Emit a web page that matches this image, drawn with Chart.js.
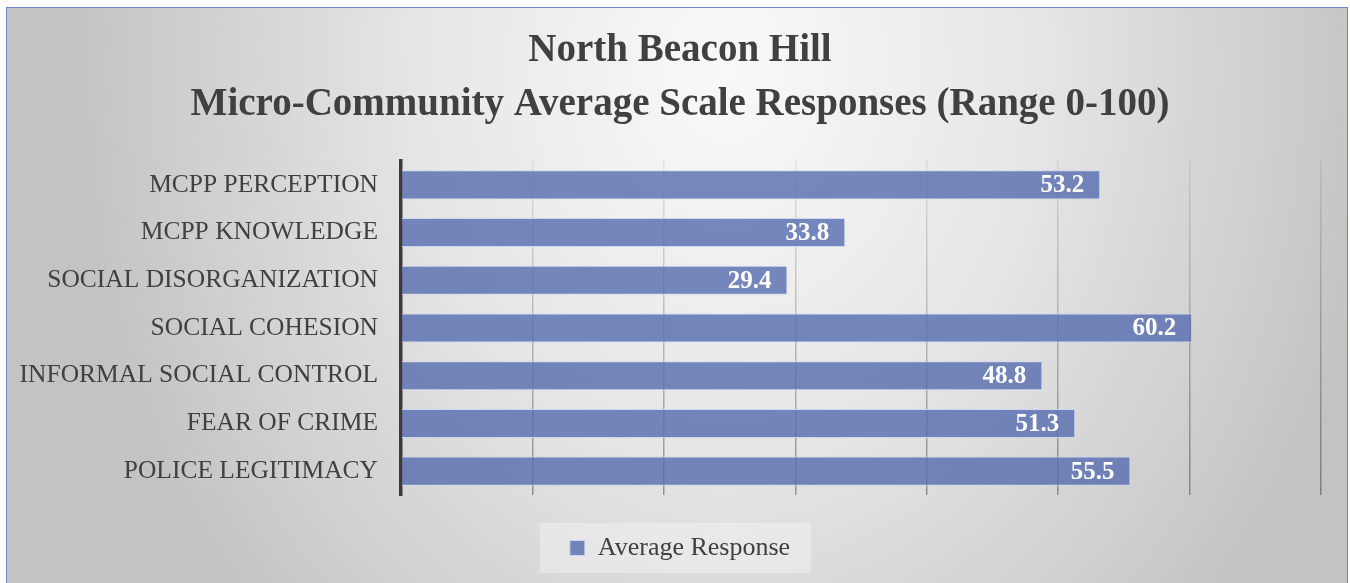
<!DOCTYPE html>
<html>
<head>
<meta charset="utf-8">
<script src="https://cdn.jsdelivr.net/npm/chart.js@4"></script>
<style>
  html, body { margin: 0; padding: 0; background: #ffffff; width: 1350px; height: 583px; overflow: hidden; }
  #box {
    position: absolute; left: 6px; top: 7px; width: 1340px; height: 600px;
    border: 1.5px solid #6f84c6;
    background: radial-gradient(ellipse 660px 820px at 720px 60px, #f9f9f9 0%, #e7e7e7 45%, #c3c3c3 100%);
  }
  #c { position: absolute; left: 0; top: 0; }
</style>
</head>
<body>
<div id="box"></div>
<canvas id="c" width="1350" height="583"></canvas>
<script>
const titleLines = ["North Beacon Hill", "Micro-Community Average Scale Responses (Range 0-100)"];
const categories = ["MCPP PERCEPTION", "MCPP KNOWLEDGE", "SOCIAL DISORGANIZATION", "SOCIAL COHESION", "INFORMAL SOCIAL CONTROL", "FEAR OF CRIME", "POLICE LEGITIMACY"];
const averageResponse = [53.2, 33.8, 29.4, 60.2, 48.8, 51.3, 55.5];
const seriesName = "Average Response";
const axisMin = 0, axisMax = 70, axisStep = 10;

const SERIF = "'Liberation Serif', 'DejaVu Serif', serif";
const LEFT_PAD = 39;

const bgPlugin = {
  id: 'legendBg',
  afterLayout(chart) {
    // let long category labels extend left of the layout padding without clipping
    if (chart.scales.y) chart.scales.y.left = 0;
  },
  beforeDraw(chart) {
    const lg = chart.legend;
    if (!lg || !lg.legendHitBoxes || !lg.legendHitBoxes.length) return;
    const hb = lg.legendHitBoxes[0];
    const ctx = chart.ctx;
    ctx.save();
    ctx.fillStyle = 'rgba(255,255,255,0.32)';
    ctx.fillRect(hb.left - 30, hb.top - 12, hb.width + 51, hb.height + 24);
    ctx.restore();
  }
};

const labelPlugin = {
  id: 'valueLabels',
  afterDatasetsDraw(chart) {
    const ctx = chart.ctx;
    const meta = chart.getDatasetMeta(0);
    const data = chart.data.datasets[0].data;
    ctx.save();
    ctx.font = "bold 25px " + SERIF;
    ctx.fillStyle = '#ffffff';
    ctx.textAlign = 'right';
    ctx.textBaseline = 'middle';
    meta.data.forEach((el, i) => {
      ctx.fillText(data[i].toFixed(1), el.x - 16, el.y + 1);
    });
    ctx.restore();
  }
};

new Chart(document.getElementById('c'), {
  type: 'bar',
  data: {
    labels: categories,
    datasets: [{
      label: seriesName,
      data: averageResponse,
      backgroundColor: 'rgba(86,108,176,0.8)',
      borderColor: 'rgba(205,214,240,0.95)',
      borderWidth: 1,
      barPercentage: 0.61,
      categoryPercentage: 1.0
    }]
  },
  options: {
    indexAxis: 'y',
    responsive: false,
    animation: false,
    devicePixelRatio: 1,
    layout: { padding: { left: LEFT_PAD, right: 29, top: 0, bottom: 12 } },
    plugins: {
      title: {
        display: true,
        text: titleLines,
        color: '#404040',
        font: { family: SERIF, size: 39, weight: 'bold', lineHeight: 54 / 39 },
        padding: { top: 24, bottom: 29 }
      },
      legend: {
        display: true,
        position: 'bottom',
        labels: {
          color: '#404040',
          font: { family: SERIF, size: 26 },
          boxWidth: 15,
          boxHeight: 15,
          padding: 10
        }
      },
      tooltip: { enabled: false }
    },
    scales: {
      x: {
        min: axisMin,
        max: axisMax,
        ticks: { display: false, stepSize: axisStep },
        grid: {
          drawTicks: false,
          lineWidth: 1.5,
          color: (c) => {
            const ch = c.chart;
            const a = ch.chartArea;
            if (!a) return 'rgba(0,0,0,0.2)';
            const g = ch.ctx.createLinearGradient(0, a.top, 0, a.bottom);
            g.addColorStop(0, 'rgba(0,0,0,0.07)');
            g.addColorStop(1, 'rgba(0,0,0,0.35)');
            return g;
          }
        },
        border: { display: false },
        afterFit: (s) => { s.height = 30; }
      },
      y: {
        ticks: {
          color: '#404040',
          font: { family: SERIF, size: 25.5 },
          padding: 23
        },
        grid: { display: false, drawTicks: false },
        border: { display: true, color: '#3b3b3b', width: 3.5 },
        afterFit: (s) => { s.width = 401 - LEFT_PAD; }
      }
    }
  },
  plugins: [bgPlugin, labelPlugin]
});
</script>
</body>
</html>
